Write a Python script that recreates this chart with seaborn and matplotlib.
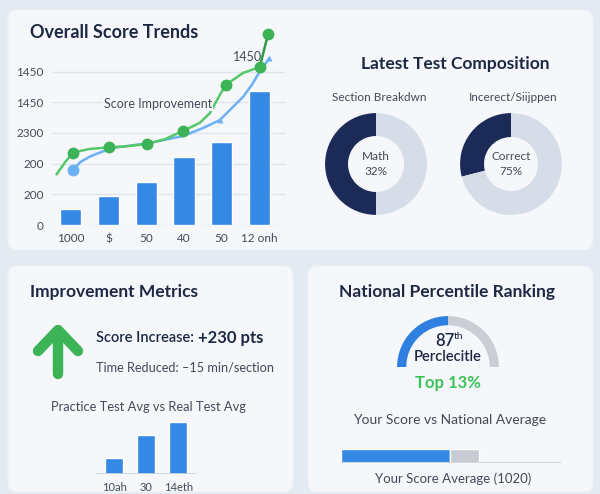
import matplotlib
matplotlib.use("Agg")
import matplotlib.pyplot as plt
import seaborn as sns
import numpy as np
import pandas as pd
from matplotlib.patches import FancyBboxPatch

# ---------------- data ----------------
trend_labels = ["1000", "$", "50", "40", "50", "12 onh"]
trend_bars = [0.52, 0.95, 1.40, 2.22, 2.71, 4.38]
ytick_labels = ["0", "200", "200", "2300", "1450", "1450"]

green_x = [-0.38, -0.15, 0.05, 0.50, 1.02, 1.50, 2.02, 2.50, 2.98, 3.42, 3.69, 3.95, 4.11, 4.57, 5.01]
green_y = [1.65, 2.05, 2.36, 2.48, 2.53, 2.57, 2.64, 2.80, 3.07, 3.33, 3.65, 4.24, 4.57, 4.96, 5.15]
green_mx = [0.05, 1.02, 2.02, 2.98, 4.11, 5.01, 5.23]
green_my = [2.36, 2.53, 2.64, 3.07, 4.57, 5.15, 6.22]

blue_x = [0.05, 0.25, 0.50, 0.85, 1.21, 2.02, 2.98, 3.50, 3.95, 4.57, 4.80, 5.01, 5.26]
blue_y = [1.79, 2.05, 2.23, 2.40, 2.53, 2.66, 2.90, 3.16, 3.42, 4.18, 4.57, 5.00, 5.43]

section_split = [50, 50]
correct_split = [29, 71]

mini_labels = ["10ah", "30", "14eth"]
mini_values = [16, 39, 52]

gauge_split = [50, 50, 100]
compare_values = [793, 211]   # your score, remaining to national avg
compare_max = 1600

# ---------------- style ----------------
sns.set_theme(style="white")
plt.rcParams['font.family'] = ['Lato', 'DejaVu Sans']

BG = "#e4eaf2"
CARD = "#f5f7fa"
NAVY = "#1d2943"
TXT = "#434a58"
BAR = "#3389e3"
GREEN = "#55c86a"
GREEN_D = "#3bb356"
LBLUE = "#6cb0f6"
DARK = "#1b2a57"
LIGHT = "#d6dde8"
GRID = "#dfe4ec"

W, H = 600, 494
fig = plt.figure(figsize=(6, 4.94), dpi=100, facecolor=BG)

def rect(l, t, r, b):
    return [l / W, 1 - b / H, (r - l) / W, (b - t) / H]

ov = fig.add_axes([0, 0, 1, 1], zorder=0)
ov.set_xlim(0, W)
ov.set_ylim(H, 0)
ov.axis("off")

for (l, t, r, b) in [(8, 10, 593, 250), (8, 266, 293, 492), (308, 266, 593, 492)]:
    ov.add_patch(FancyBboxPatch((l, t), r - l, b - t,
                                boxstyle="round,pad=0,rounding_size=9",
                                fc=CARD, ec="#edf0f5", lw=1))

# ---------------- Overall Score Trends ----------------
ov.text(30, 33, "Overall Score Trends", fontsize=13, fontweight="bold",
        color=NAVY, va="center", ha="left")

ax = fig.add_axes(rect(52, 225 - 5.2 * 30.67, 285, 225), zorder=2)
ax.patch.set_alpha(0)
pos = list(range(len(trend_bars)))
sns.barplot(x=pos, y=trend_bars, color=BAR, saturation=1,
            width=0.56, ax=ax, zorder=2, errorbar=None)
ax.set_xticks(pos)
ax.set_xticklabels(trend_labels)
ax.set_xlim(-0.5, 5.68)
ax.set_ylim(0, 5.2)
ax.set_yticks(range(6))
ax.set_yticklabels(ytick_labels)
ax.yaxis.grid(True, color=GRID, lw=1)
ax.set_axisbelow(True)
for s in ax.spines.values():
    s.set_visible(False)
ax.tick_params(axis="both", length=0, labelsize=8.5, labelcolor=TXT)
ax.tick_params(axis="y", pad=6)
ax.tick_params(axis="x", pad=6)
ax.set_xlabel("")
ax.set_ylabel("")

ax.plot(green_x, green_y, color=GREEN, lw=1.8, zorder=4, clip_on=False,
        solid_joinstyle="round")
ax.plot(green_mx[-2:], green_my[-2:], color="#2e9a45", lw=1.8, zorder=4, clip_on=False)
ax.plot(blue_x, blue_y, color=LBLUE, lw=1.8, zorder=3, clip_on=False,
        solid_joinstyle="round")
ax.plot(green_mx, green_my, ls="none", marker="o", ms=8.5, color=GREEN_D,
        mec="none", zorder=5, clip_on=False)
ax.plot(blue_x[:1], blue_y[:1], ls="none", marker="o", ms=8.5, color=LBLUE,
        mec="none", zorder=5, clip_on=False)
ax.plot([blue_x[8], blue_x[-1]], [blue_y[8], blue_y[-1]], ls="none", marker="^",
        ms=4, color=LBLUE, mec="none", zorder=5, clip_on=False)

fig.text(158 / W, 1 - 104 / H, "Score Improvement", fontsize=9, color=TXT,
         ha="center", va="center", zorder=10,
         bbox=dict(fc=CARD, ec="none", pad=0.6))
ov.text(248, 57, "1450", fontsize=9, color=TXT, ha="center", va="center")

# ---------------- Latest Test Composition ----------------
ov.text(455, 64, "Latest Test Composition", fontsize=12.5, fontweight="bold",
        color=NAVY, ha="center", va="center")
ov.text(379, 97, "Section Breakdwn", fontsize=8.5, color=TXT, ha="center", va="center")
ov.text(513, 97, "Incerect/Siijppen", fontsize=8.5, color=TXT, ha="center", va="center")

def donut(cx, cy, vals, inner, label):
    a = fig.add_axes(rect(cx - 56, cy - 56, cx + 56, cy + 56), zorder=2)
    a.pie(vals, colors=[DARK, LIGHT], startangle=90, counterclock=True,
          radius=1, wedgeprops=dict(width=1 - inner, edgecolor="none"))
    a.set_xlim(-1.1, 1.1)
    a.set_ylim(-1.1, 1.1)
    a.set_aspect("equal")
    a.axis("off")
    a.text(0, 0, label, ha="center", va="center", fontsize=8.5, color=TXT,
           linespacing=1.4)

donut(376, 164, section_split, 0.55, "Math\n32%")
donut(511, 164, correct_split, 0.53, "Correct\n75%")

# ---------------- Improvement Metrics ----------------
ov.text(30, 292, "Improvement Metrics", fontsize=12.5, fontweight="bold",
        color=NAVY, ha="left", va="center")
ov.plot([58, 58], [374, 333], color=GREEN_D, lw=7.5, solid_capstyle="round")
ov.plot([38, 58, 78], [351, 330, 351], color=GREEN_D, lw=7.5,
        solid_capstyle="round", solid_joinstyle="round")
t1 = ov.text(96, 338, "Score Increase: ", fontsize=10.5, fontweight="semibold",
             color=NAVY, ha="left", va="center")
ov.annotate("+230 pts", xycoords=t1, xy=(1, 0.5), va="center", ha="left",
            fontsize=12, fontweight="bold", color=NAVY)
ov.text(96, 367, "Time Reduced: \u201315 min/section", fontsize=9.2,
        color=TXT, ha="left", va="center")
ov.text(148, 407, "Practice Test Avg vs Real Test Avg", fontsize=9.3,
        color=TXT, ha="center", va="center")

am = fig.add_axes(rect(96, 414, 196, 474), zorder=2)
am.patch.set_alpha(0)
mpos = list(range(len(mini_values)))
sns.barplot(x=mpos, y=mini_values, color=BAR, saturation=1,
            width=0.56, ax=am, errorbar=None)
am.set_xticks(mpos)
am.set_xticklabels(mini_labels)
am.set_xlim(-0.56, 2.55)
am.set_ylim(0, 60)
am.axhline(0, color="#cfd5de", lw=1.2)
for s in am.spines.values():
    s.set_visible(False)
am.set_yticks([])
am.set_xlabel("")
am.set_ylabel("")
am.tick_params(axis="x", length=0, labelsize=8, labelcolor=TXT, pad=6)

# ---------------- National Percentile Ranking ----------------
ov.text(447, 292, "National Percentile Ranking", fontsize=12.5, fontweight="bold",
        color=NAVY, ha="center", va="center")
ag = fig.add_axes(rect(448 - 56, 367 - 56, 448 + 56, 367 + 56), zorder=2)
ag.pie(gauge_split, colors=["#2f7fe0", "#c9cdd4", "none"], startangle=180,
       counterclock=False, radius=1, wedgeprops=dict(width=0.18, edgecolor="none"))
ag.set_xlim(-1.1, 1.1)
ag.set_ylim(-1.1, 1.1)
ag.set_aspect("equal")
ag.axis("off")
ov.text(445, 341, "87", fontsize=12, fontweight="semibold", color=NAVY,
        ha="center", va="center")
ov.text(454, 336, "th", fontsize=7.5, color=NAVY, ha="left", va="center")
ov.text(448, 357, "Perclecitle", fontsize=10.5, fontweight="semibold", color=NAVY,
        ha="center", va="center")
ov.text(448, 383, "Top 13%", fontsize=12, fontweight="bold", color="#3cc25a",
        ha="center", va="center")
ov.text(450, 420, "Your Score vs National Average", fontsize=10, color=TXT,
        ha="center", va="center")

ab = fig.add_axes(rect(341, 449, 561, 463), zorder=2)
ab.patch.set_alpha(0)
ab.barh([0], [compare_values[0]], height=1.0, color=BAR, left=0)
ab.barh([0], [compare_values[1]], height=1.0, color="#c7ccd4", left=compare_values[0])
ab.set_xlim(0, compare_max)
ab.set_ylim(-0.5, 0.5)
ab.axhline(-0.5, color="#cfd5de", lw=1.5)
ab.axis("off")
ov.text(453, 479, "Your Score Average (1020)", fontsize=9.5, color=TXT,
        ha="center", va="center")

fig.savefig("out.png", dpi=100, facecolor=BG)
